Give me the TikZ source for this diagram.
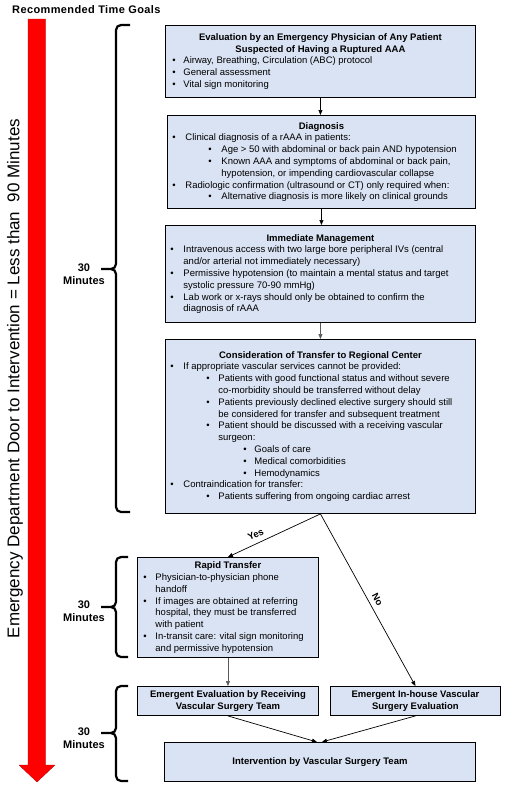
\documentclass[tikz,border=0pt]{standalone}
\usepackage{fontspec}
\setmainfont{Liberation Sans}
\newfontfamily\titlefont[LetterSpace=3.5]{Liberation Sans}
\usetikzlibrary{arrows.meta}
\definecolor{boxfill}{RGB}{218,227,243}
\definecolor{arrred}{RGB}{255,0,0}
\newcommand{\boxtext}[2]{\vbox{\hsize=#1pt\relax #2}}
\newcommand{\boxhead}[1]{\hbox to\hsize{\hss\bfseries #1\hss}}
\newcommand{\bitem}[3]{\hbox{\hskip#1pt\relax\hbox to \dimexpr#2pt-#1pt\relax{\textbullet\hss}#3}}
\newcommand{\bcont}[2]{\hbox{\hskip#1pt\relax #2}}
\begin{document}
\begin{tikzpicture}[x=1pt,y=-1pt,
  bx/.style={draw, line width=0.9pt, fill=boxfill, anchor=north west, inner xsep=3pt, inner ysep=0pt,
    font=\fontsize{9.5}{11.8}\selectfont},
  conn/.style={line width=0.7pt, -{Triangle[length=5pt,width=4pt]}},
  brc/.style={line width=2.2pt, rounded corners=5pt},
  mins/.style={align=center, font=\bfseries\fontsize{11}{13.5}\selectfont},
  lbl/.style={font=\bfseries\fontsize{9.5}{11}\selectfont, inner sep=5pt}]
\useasboundingbox (0,0) rectangle (508,785);

% title
\node[anchor=base west, font=\titlefont\bfseries\fontsize{11}{13}\selectfont, inner sep=0pt] (title) at (12,13) {Recommended Time Goals};

% red arrow
\fill[arrred, draw=red!70!black, line width=0.3pt] (28,19) -- (45.5,19) -- (45.5,765) -- (55,765) -- (37,782) -- (19,765) -- (28,765) -- cycle;
\node[rotate=90, anchor=base, inner sep=0pt, font=\fontsize{17}{20}\selectfont] (vt) at (19.5,378.5) {Emergency Department Door to Intervention = Less than \ 90 Minutes};

% braces
\draw[brc] (130,25) -- (116,25) -- (116,269) -- (101,269) (101,269) -- (116,269) -- (116,512) -- (130,512);
\draw[brc] (128,557) -- (116,557) -- (116,607) -- (101,607) (101,607) -- (116,607) -- (116,657) -- (128,657);
\draw[brc] (128,686) -- (116,686) -- (116,733) -- (101,733) (101,733) -- (116,733) -- (116,781) -- (128,781);
\node[mins] (m1) at (84,274) {30\\Minutes};
\node[mins] (m2) at (84,611) {30\\Minutes};
\node[mins] (m3) at (84,738) {30\\Minutes};

% boxes
\node[bx, minimum width=310pt, minimum height=72pt] (b1) at (165,25) {\boxtext{304}{%
\boxhead{Evaluation by an Emergency Physician of Any Patient}
\boxhead{Suspected of Having a Ruptured AAA}
\bitem{4}{15}{Airway, Breathing, Circulation (ABC) protocol}
\bitem{4}{15}{General assessment}
\bitem{4}{15}{Vital sign monitoring}}};

\node[bx, minimum width=308pt, minimum height=93pt] (b2) at (167,115) {\boxtext{302}{%
\boxhead{Diagnosis}
\bitem{2}{15}{Clinical diagnosis of a rAAA in patients:}
\bitem{38}{51}{Age > 50 with abdominal or back pain AND hypotension}
\bitem{38}{51}{Known AAA and symptoms of abdominal or back pain,}
\bcont{51}{hypotension, or impending cardiovascular collapse}
\bitem{2}{15}{Radiologic confirmation (ultrasound or CT) only required when:}
\bitem{38}{51}{Alternative diagnosis is more likely on clinical grounds}}};

\node[bx, minimum width=310pt, minimum height=97pt] (b3) at (165,225) {\boxtext{304}{%
\boxhead{Immediate Management}
\bitem{2}{15}{Intravenous access with two large bore peripheral IVs (central}
\bcont{15}{and/or arterial not immediately necessary)}
\bitem{2}{15}{Permissive hypotension (to maintain a mental status and target}
\bcont{15}{systolic pressure 70-90 mmHg)}
\bitem{2}{15}{Lab work or x-rays should only be obtained to confirm the}
\bcont{15}{diagnosis of rAAA}}};

\node[bx, minimum width=310pt, minimum height=174pt] (b4) at (165,339) {\boxtext{304}{%
\boxhead{Consideration of Transfer to Regional Center}
\bitem{2}{15}{If appropriate vascular services cannot be provided:}
\bitem{38}{50}{Patients with good functional status and without severe}
\bcont{50}{co-morbidity should be transferred without delay}
\bitem{38}{50}{Patients previously declined elective surgery should still}
\bcont{50}{be considered for transfer and subsequent treatment}
\bitem{38}{50}{Patient should be discussed with a receiving vascular}
\bcont{50}{surgeon:}
\bitem{75}{86}{Goals of care}
\bitem{75}{86}{Medical comorbidities}
\bitem{75}{86}{Hemodynamics}
\bitem{2}{15}{Contraindication for transfer:}
\bitem{38}{50}{Patients suffering from ongoing cardiac arrest}}};

\node[bx, minimum width=181pt, minimum height=100pt] (b5) at (137,557) {\boxtext{175}{%
\boxhead{Rapid Transfer}
\bitem{3}{15}{Physician-to-physician phone}
\bcont{15}{handoff}
\bitem{3}{15}{If images are obtained at referring}
\bcont{15}{hospital, they must be transferred}
\bcont{15}{with patient}
\bitem{3}{15}{In-transit care: vital sign monitoring}
\bcont{15}{and permissive hypotension}}};

\node[bx, minimum width=181pt, minimum height=29pt] (b6) at (137,686) {\boxtext{175}{%
\boxhead{Emergent Evaluation by Receiving}
\boxhead{Vascular Surgery Team}}};

\node[bx, minimum width=170pt, minimum height=29pt] (b7) at (330,686) {\boxtext{164}{%
\boxhead{Emergent In-house Vascular}
\boxhead{Surgery Evaluation}}};

\node[bx, minimum width=311pt, minimum height=39pt] (b8) at (164,742) {\boxtext{305}{%
\boxhead{Intervention by Vascular Surgery Team}}};

% connectors
\draw[conn] (b1.south) -- (b1.south |- b2.north);
\draw[conn] (b2.south) -- (b2.south |- b3.north);
\draw[conn, gray!70!black] (b3.south) -- (b3.south |- b4.north);
\draw[conn] (b4.south) -- node[lbl, pos=0.66, rotate=25, anchor=south] (yes) {Yes} (b5.north);
\draw[conn] (b4.south) -- node[lbl, pos=0.52, rotate=-62, anchor=south] (no) {No} (b7.north);
\draw[conn, gray!70!black] (b5.south) -- (b6.north);
\draw[conn] (b6.south) -- ([xshift=-3pt]b8.north);
\draw[conn] (b7.south) -- ([xshift=2pt]b8.north);
\end{tikzpicture}
\end{document}
